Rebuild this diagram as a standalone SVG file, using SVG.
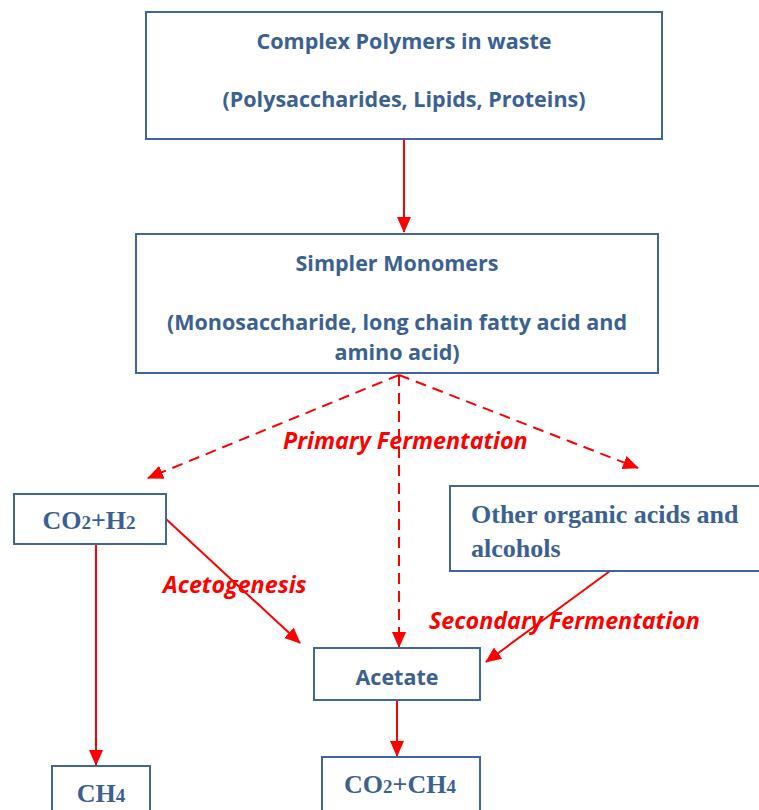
<svg xmlns="http://www.w3.org/2000/svg" width="759" height="810" viewBox="0 0 759 810">
<style>
.box{fill:#fff;stroke:#41679a;stroke-width:2}
.t{font-family:"Open Sans",Lato,sans-serif;font-weight:bold;fill:#3b6193;font-size:21.5px;text-anchor:middle}
.s{font-family:"Liberation Serif",serif;font-weight:bold;fill:#3b6193;font-size:26px}
.r{font-family:"Open Sans",Lato,sans-serif;font-weight:bold;font-style:italic;fill:#ff0000;font-size:23.3px}
.c{stroke:#ff0000;stroke-width:2;fill:none}
.d{stroke-dasharray:11 7}
</style>
<defs>
<marker id="ah" markerWidth="16" markerHeight="16" viewBox="0 0 16 16" refX="15" refY="8" orient="auto" markerUnits="userSpaceOnUse">
<path d="M0,1 L16,8 L0,15 Z" fill="#ff0000"/>
</marker>
</defs>
<g id="connectors">
<line class="c" x1="404" y1="139" x2="404" y2="232" marker-end="url(#ah)"/>
<line class="c d" x1="399" y1="375" x2="148" y2="478" marker-end="url(#ah)"/>
<line class="c d" x1="399" y1="375" x2="399" y2="647" marker-end="url(#ah)"/>
<line class="c d" x1="399" y1="375" x2="638" y2="468" marker-end="url(#ah)"/>
<line class="c" x1="166" y1="519" x2="300" y2="643" marker-end="url(#ah)"/>
<line class="c" x1="96" y1="544" x2="96" y2="765" marker-end="url(#ah)"/>
<line class="c" x1="610" y1="571" x2="486" y2="662" marker-end="url(#ah)"/>
<line class="c" x1="397" y1="700" x2="397" y2="756" marker-end="url(#ah)"/>
<text class="r" x="283" y="449">Primary Fermentation</text>
<text class="r" x="163" y="593">Acetogenesis</text>
<text class="r" x="429" y="629">Secondary Fermentation</text>
</g>
<g id="complex">
<rect class="box" x="146" y="12" width="516" height="127"/>
<text class="t" x="404" y="49">Complex Polymers in waste</text>
<text class="t" x="404" y="107">(Polysaccharides, Lipids, Proteins)</text>
</g>
<g id="monomers">
<rect class="box" x="136" y="234" width="522" height="139"/>
<text class="t" x="397" y="271">Simpler Monomers</text>
<text class="t" x="397" y="330">(Monosaccharide, long chain fatty acid and</text>
<text class="t" x="397" y="360">amino acid)</text>
</g>
<g id="co2h2">
<rect class="box" x="14" y="494" width="152" height="50"/>
<text class="s" x="89" y="529" text-anchor="middle">CO<tspan font-size="19">2</tspan>+H<tspan font-size="19">2</tspan></text>
</g>
<g id="other">
<rect class="box" x="450" y="486" width="320" height="85"/>
<text class="s" x="471" y="523" font-size="26.6">Other organic acids and</text>
<text class="s" x="471" y="557" font-size="26.6">alcohols</text>
</g>
<g id="acetate">
<rect class="box" x="314" y="648" width="166" height="52"/>
<text class="t" x="397" y="685">Acetate</text>
</g>
<g id="ch4">
<rect class="box" x="52" y="766" width="98" height="60"/>
<text class="s" x="101" y="802" text-anchor="middle">CH<tspan font-size="19">4</tspan></text>
</g>
<g id="co2ch4">
<rect class="box" x="322" y="757" width="158" height="70"/>
<text class="s" x="400" y="793" text-anchor="middle">CO<tspan font-size="19">2</tspan>+CH<tspan font-size="19">4</tspan></text>
</g>
</svg>
